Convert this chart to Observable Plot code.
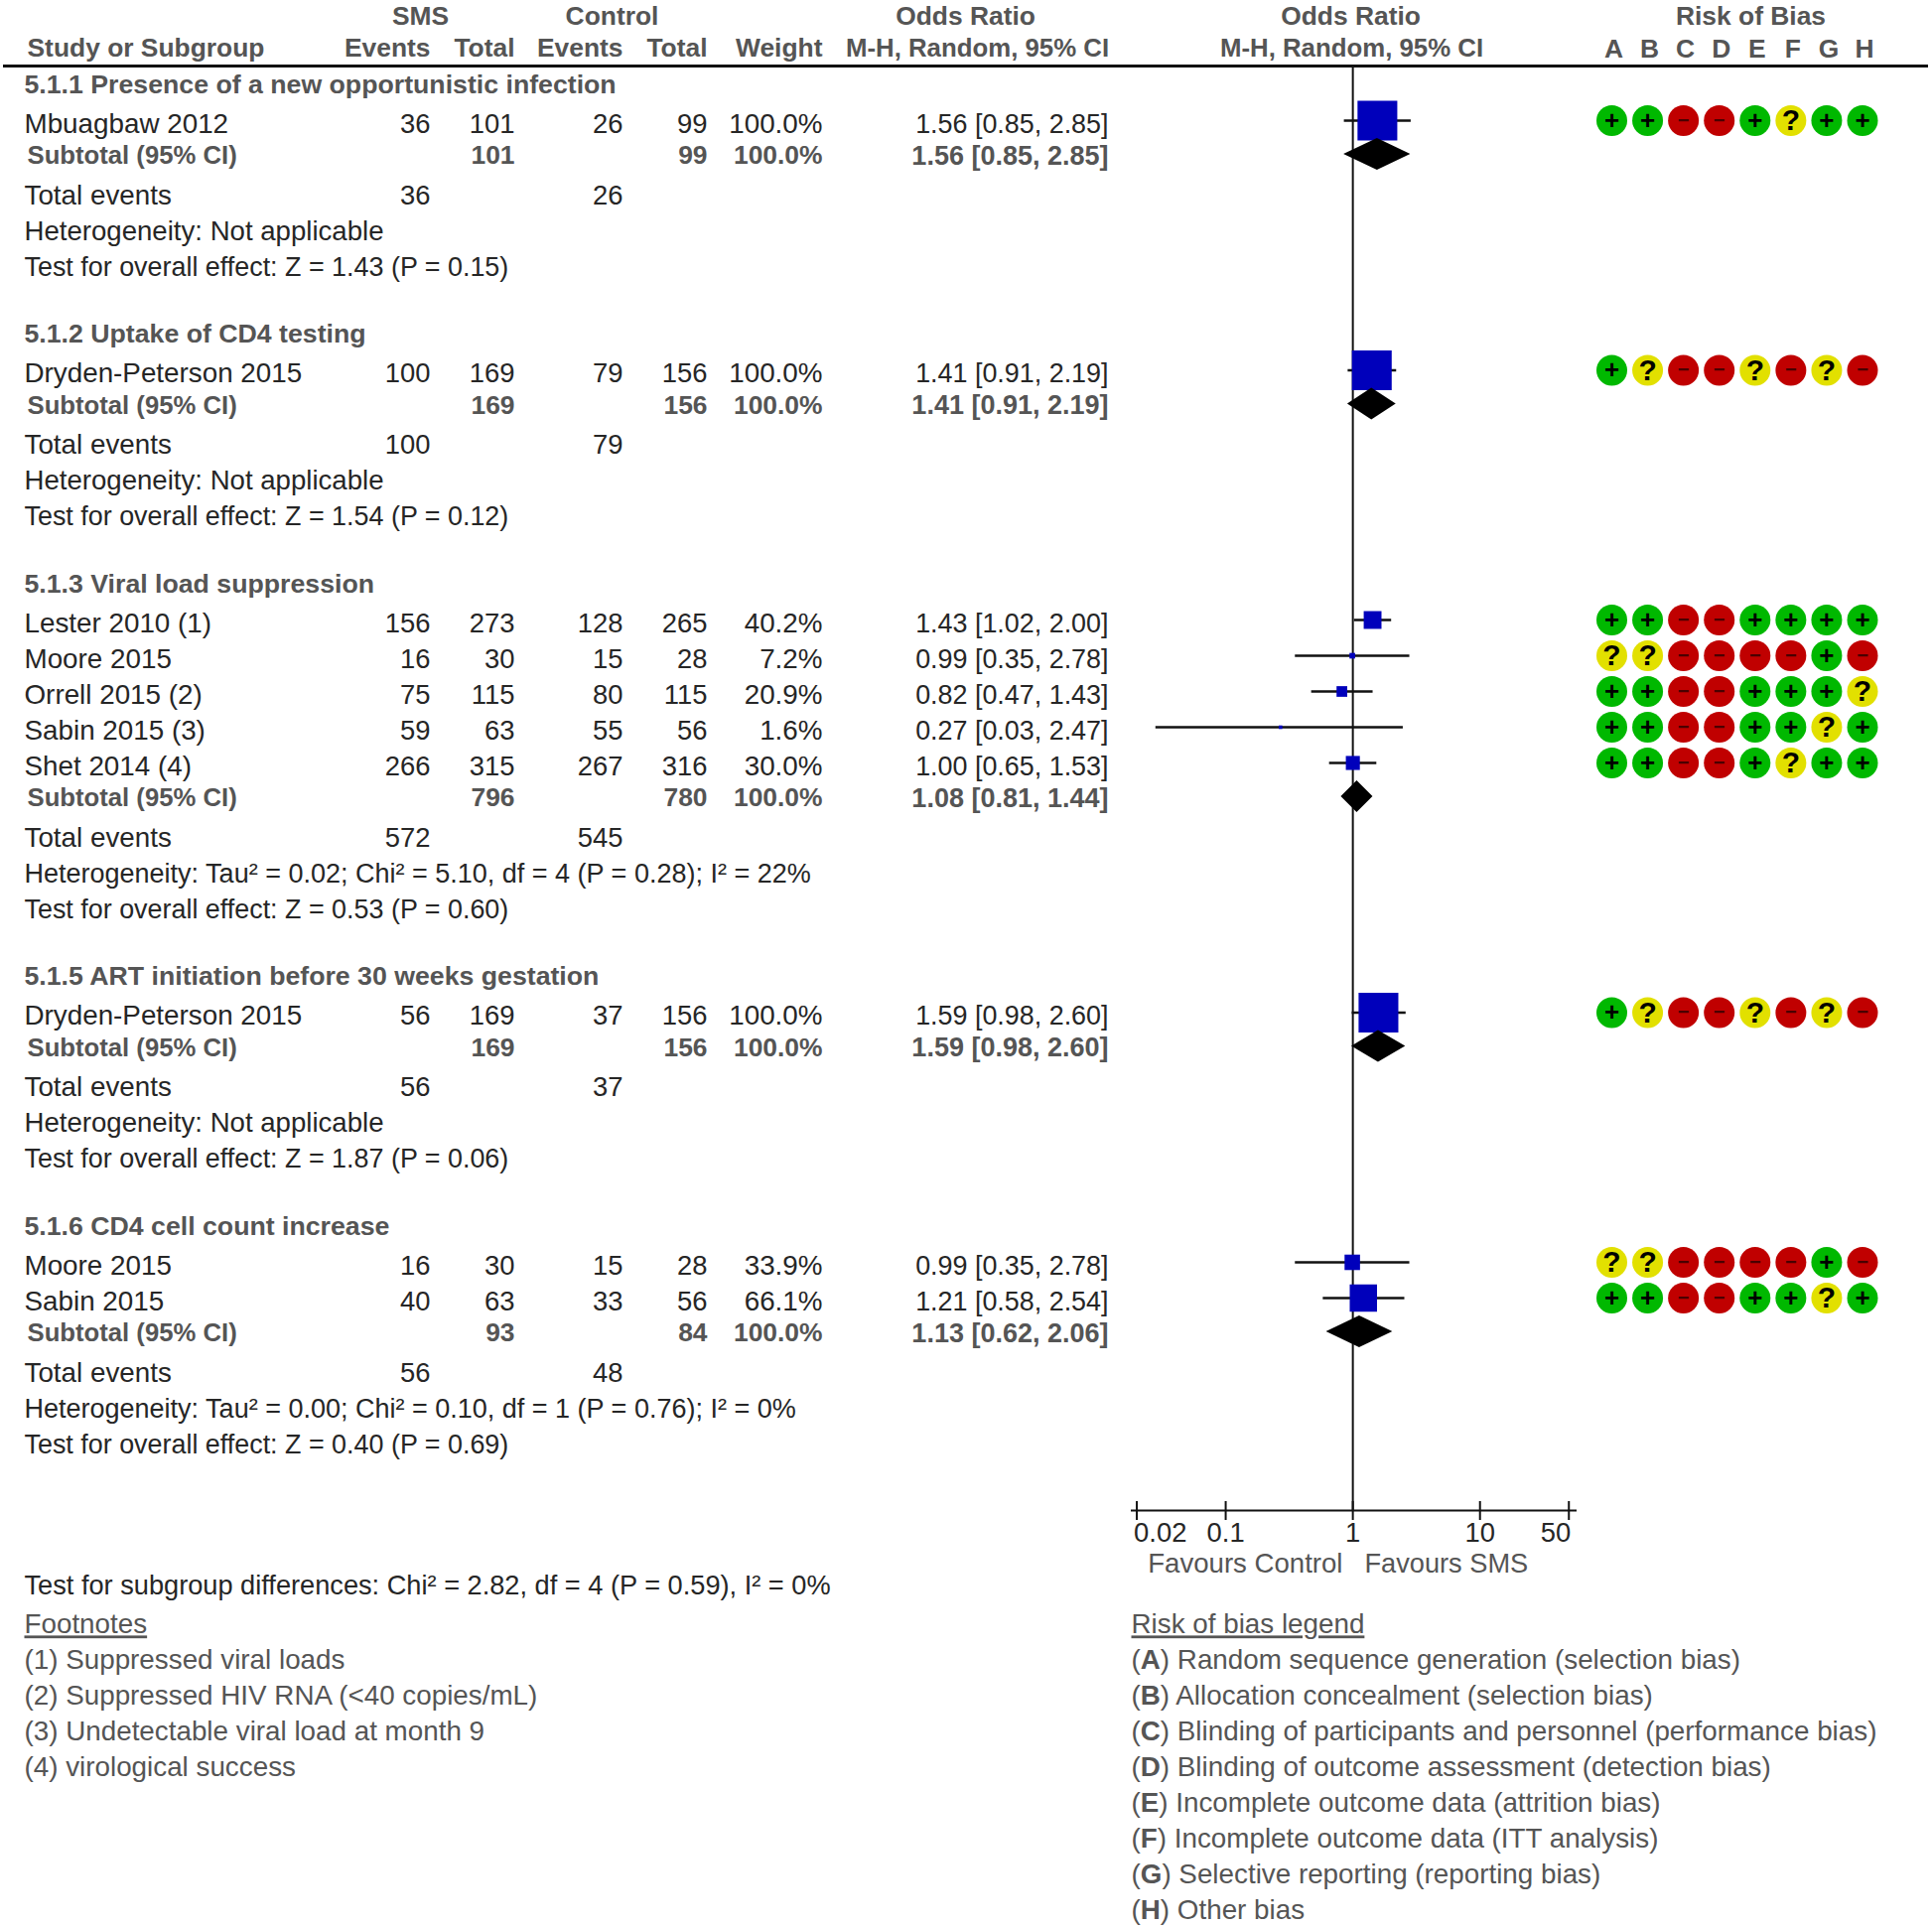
<!DOCTYPE html>
<html>
<head>
<meta charset="utf-8">
<script src="https://cdn.jsdelivr.net/npm/d3@7"></script>
<script src="https://cdn.jsdelivr.net/npm/@observablehq/plot@0.6"></script>
<style>
html,body{margin:0;padding:0;background:#fff}
#chart{position:relative;width:1946px;height:1941px;overflow:hidden}
#chart svg{position:absolute;left:0;top:0;max-width:none}
</style>
</head>
<body>
<div id="chart"></div>
<script>
// ---------- data ----------
const sectionTitles = ["5.1.1 Presence of a new opportunistic infection","5.1.2 Uptake of CD4 testing","5.1.3 Viral load suppression","5.1.5 ART initiation before 30 weeks gestation","5.1.6 CD4 cell count increase"];
const studyNames   = ["Mbuagbaw 2012","Dryden-Peterson 2015","Lester 2010 (1)","Moore 2015","Orrell 2015 (2)","Sabin 2015 (3)","Shet 2014 (4)","Dryden-Peterson 2015","Moore 2015","Sabin 2015"];
const studySection = [0,1,2,2,2,2,2,3,4,4];
const smsEvents    = [36,100,156,16,75,59,266,56,16,40];
const smsTotals    = [101,169,273,30,115,63,315,169,30,63];
const ctrlEvents   = [26,79,128,15,80,55,267,37,15,33];
const ctrlTotals   = [99,156,265,28,115,56,316,156,28,56];
const studyWeights = [100,100,40.2,7.2,20.9,1.6,30,100,33.9,66.1];
const studyOR      = [1.56,1.41,1.43,0.99,0.82,0.27,1.00,1.59,0.99,1.21];
const studyLo      = [0.85,0.91,1.02,0.35,0.47,0.028,0.65,0.98,0.35,0.58];
const studyHi      = [2.85,2.19,2.00,2.78,1.43,2.47,1.53,2.60,2.78,2.54];
const studyRob     = ["++--+?++","+?--?-?-","++--++++","??----+-","++--+++?","++--++?+","++--+?++","+?--?-?-","??----+-","++--++?+"];
const subSmsTotal  = [101,169,796,169,93];
const subCtrlTotal = [99,156,780,156,84];
const subOR        = [1.56,1.41,1.08,1.59,1.13];
const subLo        = [0.85,0.91,0.81,0.98,0.62];
const subHi        = [2.85,2.19,1.44,2.60,2.06];
const eventsSms    = [36,100,572,56,56];
const eventsCtrl   = [26,79,545,37,48];
const hetTexts     = ["Heterogeneity: Not applicable","Heterogeneity: Not applicable","Heterogeneity: Tau² = 0.02; Chi² = 5.10, df = 4 (P = 0.28); I² = 22%","Heterogeneity: Not applicable","Heterogeneity: Tau² = 0.00; Chi² = 0.10, df = 1 (P = 0.76); I² = 0%"];
const effectTexts  = ["Test for overall effect: Z = 1.43 (P = 0.15)","Test for overall effect: Z = 1.54 (P = 0.12)","Test for overall effect: Z = 0.53 (P = 0.60)","Test for overall effect: Z = 1.87 (P = 0.06)","Test for overall effect: Z = 0.40 (P = 0.69)"];
const subgroupTest = "Test for subgroup differences: Chi² = 2.82, df = 4 (P = 0.59), I² = 0%";
const footnotes    = ["(1) Suppressed viral loads","(2) Suppressed HIV RNA (<40 copies/mL)","(3) Undetectable viral load at month 9","(4) virological success"];
const robLegend    = ["(A) Random sequence generation (selection bias)","(B) Allocation concealment (selection bias)","(C) Blinding of participants and personnel (performance bias)","(D) Blinding of outcome assessment (detection bias)","(E) Incomplete outcome data (attrition bias)","(F) Incomplete outcome data (ITT analysis)","(G) Selective reporting (reporting bias)","(H) Other bias"];
const robDomains   = ["A","B","C","D","E","F","G","H"];
const axisTicksStart  = [0.02];
const axisTicksMiddle = [0.1,1,10];
const axisTicksEnd    = [50];

// ---------- layout ----------
const W = 1946, H = 1941;
const FONT = "Liberation Sans";
const FS = 26.4, FS_WIDE = 27.8, FS_NUM = 27.4, FS_CI = 26.9, FS_BOLD = 26.7;
const DARK = "#262626", GREY = "#555555";
const COL = {name:24, smsE:433, smsT:518, ctrlE:627, ctrlT:712, wt:828, ci:1116};
const gaps = {toStudy:40, nextStudy:36, toSub:32, toTotal:40, toHet:36, toTest:36, toSection:67.5};
const ROW_SHIFT = 3.5;           // forest and risk-of-bias symbols sit just above the text centre
const DIAMOND_HALF = 16, DIAMOND_SHIFT = 1.5;
const AXIS_Y = 1521, FOREST_TOP = 66, TICK_LABEL_Y = 1544;

let cur = 84.5;
const sectionRows = [], studyRows = [], subRows = [], totalRows = [], hetRows = [], effectRows = [];
sectionTitles.forEach((title, s) => {
  sectionRows.push({title, y: cur});
  let first = true;
  studyNames.forEach((name, i) => {
    if (studySection[i] !== s) return;
    cur += first ? gaps.toStudy : gaps.nextStudy; first = false;
    studyRows.push({name, y: cur, e1: smsEvents[i], t1: smsTotals[i], e2: ctrlEvents[i], t2: ctrlTotals[i],
      wt: studyWeights[i], or: studyOR[i], lo: studyLo[i], hi: studyHi[i], rob: studyRob[i]});
  });
  cur += gaps.toSub;
  subRows.push({y: cur, t1: subSmsTotal[s], t2: subCtrlTotal[s], or: subOR[s], lo: subLo[s], hi: subHi[s]});
  cur += gaps.toTotal;
  totalRows.push({y: cur, e1: eventsSms[s], e2: eventsCtrl[s]});
  cur += gaps.toHet;
  hetRows.push({y: cur, text: hetTexts[s]});
  cur += gaps.toTest;
  effectRows.push({y: cur, text: effectTexts[s]});
  cur += gaps.toSection;
});
const ciText = d => `${d.or.toFixed(2)} [${d.lo.toFixed(2)}, ${d.hi.toFixed(2)}]`;

const idY = {type:"linear", domain:[0,H], range:[0,H]};
const col = (rows, x, text, anchor, extra={}) =>
  Plot.text(rows, {x: () => x, y: "y", text, textAnchor: anchor, fontSize: FS, fontFamily: FONT, fill: DARK, ...extra});
const bold = {fontWeight:"bold", fill:GREY};
const big = {fontSize:FS_WIDE};
const num = {fontSize:FS_NUM};

const HEAD1 = 15.6, HEAD2 = 48;
const headerMiddle = [
  {y:HEAD1, x:423,  text:"SMS"},
  {y:HEAD1, x:616,  text:"Control"},
  {y:HEAD1, x:972,  text:"Odds Ratio"},
  {y:HEAD1, x:1360, text:"Odds Ratio"},
  {y:HEAD1, x:1763, text:"Risk of Bias"}
];
const headerFine = [
  {y:HEAD2, x:984,  text:"M-H, Random, 95% CI"},
  {y:HEAD2, x:1361, text:"M-H, Random, 95% CI"}
];
const headerEnd = [
  {y:HEAD2, x:COL.smsE,  text:"Events"},
  {y:HEAD2, x:COL.smsT,  text:"Total"},
  {y:HEAD2, x:COL.ctrlE, text:"Events"},
  {y:HEAD2, x:COL.ctrlT, text:"Total"},
  {y:HEAD2, x:COL.wt,    text:"Weight"}
];
const footerRows = (texts, y0) => texts.map((text,i) => ({text, y: y0 + 36*i}));

// ---------- table layer ----------
const table = Plot.plot({
  width:W, height:H, margin:0,
  x:{type:"linear", domain:[0,W], range:[0,W], axis:null},
  y:{...idY, axis:null},
  style:{background:"transparent"},
  marks:[
    Plot.text(headerMiddle,{x:"x",y:"y",text:"text",textAnchor:"middle",fontSize:FS,fontFamily:FONT,...bold}),
    Plot.text(headerFine,{x:"x",y:"y",text:"text",textAnchor:"middle",fontSize:25.8,fontFamily:FONT,...bold}),
    Plot.text(headerEnd,{x:"x",y:"y",text:"text",textAnchor:"end",fontSize:FS,fontFamily:FONT,...bold}),
    col([{y:HEAD2}], 27, () => "Study or Subgroup", "start", bold),
    Plot.ruleY([66],{x1:()=>3,x2:()=>1942,stroke:"#111",strokeWidth:3}),
    col(sectionRows, COL.name, "title", "start", {...bold, fontSize:FS_BOLD}),
    col(studyRows, COL.name, "name", "start", big),
    col(studyRows, COL.smsE, "e1", "end", num),
    col(studyRows, COL.smsT, "t1", "end", num),
    col(studyRows, COL.ctrlE, "e2", "end", num),
    col(studyRows, COL.ctrlT, "t2", "end", num),
    col(studyRows, COL.wt, d => d.wt.toFixed(1)+"%", "end", big),
    col(studyRows, COL.ci, ciText, "end", {fontSize:FS_CI}),
    col(subRows, 27, () => "Subtotal (95% CI)", "start", {...bold, fontSize:25.7}),
    col(subRows, COL.smsT, "t1", "end", bold),
    col(subRows, COL.ctrlT, "t2", "end", bold),
    col(subRows, COL.wt, () => "100.0%", "end", bold),
    col(subRows, COL.ci, ciText, "end", {...bold, fontSize:27}),
    col(totalRows, COL.name, () => "Total events", "start", big),
    col(totalRows, COL.smsE, "e1", "end", num),
    col(totalRows, COL.ctrlE, "e2", "end", num),
    col(hetRows.filter(d => d.text.length < 40), COL.name, "text", "start", {fontSize:27.6}),
    col(hetRows.filter(d => d.text.length >= 40), COL.name, "text", "start", {fontSize:27}),
    col(effectRows, COL.name, "text", "start", {fontSize:FS_CI}),
    col([{y:1597}], COL.name, () => subgroupTest, "start", {fontSize:27.2}),
    col([{y:1636}], COL.name, () => "Footnotes", "start", {fill:GREY, ...big}),
    col(footerRows(footnotes,1672), COL.name, "text", "start", {fill:GREY, ...big}),
    col([{y:1636}], 1139, () => "Risk of bias legend", "start", {fill:GREY, ...big}),
    col(footerRows(robLegend,1672), 1139, "text", "start", {fill:GREY, ...big}),
    col([{y:1575}], 1352, () => "Favours Control", "end", {fill:GREY, fontSize:27.6}),
    col([{y:1575}], 1374, () => "Favours SMS", "start", {fill:GREY, fontSize:27.2})
  ]
});

// ---------- forest layer ----------
const diamonds = subRows.flatMap((d,i) => {
  const c = d.y - DIAMOND_SHIFT;
  return [
    {id:i, x:d.lo, y1:c, y2:c},
    {id:i, x:d.or, y1:c-DIAMOND_HALF, y2:c+DIAMOND_HALF},
    {id:i, x:d.hi, y1:c, y2:c}
  ];
});
const tickLabel = (ticks, anchor, dx) => Plot.text(ticks, {
  x: d => d, y: () => TICK_LABEL_Y, text: d => String(d), textAnchor: anchor, dx,
  fontSize: FS_NUM, fontFamily: FONT, fill: DARK
});
const forest = Plot.plot({
  width:W, height:H,
  marginLeft:1139, marginRight:W-1588, marginTop:0, marginBottom:H-AXIS_Y,
  x:{type:"log", domain:[0.0181,58], axis:null},
  y:{...idY, axis:null},
  r:{type:"linear", domain:[0,100], range:[1.7,22.6]},
  style:{background:"transparent"},
  marks:[
    Plot.ruleX([1],{y1:()=>FOREST_TOP,y2:()=>AXIS_Y,stroke:"#111",strokeWidth:2}),
    Plot.ruleY([AXIS_Y],{stroke:"#111",strokeWidth:2}),
    Plot.ruleX([...axisTicksStart,...axisTicksMiddle,...axisTicksEnd],{y1:()=>AXIS_Y-9,y2:()=>AXIS_Y+10,stroke:"#111",strokeWidth:2}),
    tickLabel(axisTicksStart,"start",-3),
    tickLabel(axisTicksMiddle,"middle",0),
    tickLabel(axisTicksEnd,"end",2),
    Plot.link(studyRows,{x1:"lo",x2:"hi",y1:d=>d.y-ROW_SHIFT,y2:d=>d.y-ROW_SHIFT,stroke:"#111",strokeWidth:2.5}),
    Plot.dot(studyRows,{x:"or",y:d=>d.y-ROW_SHIFT,r:"wt",symbol:"square",fill:"#0000bb",stroke:"none"}),
    Plot.area(diamonds,{x1:"x",y1:"y1",y2:"y2",z:"id",fill:"#000",curve:"linear"})
  ]
});

// ---------- risk-of-bias layer ----------
const robCells = studyRows.flatMap(d => robDomains.map((k,i) => ({k, j:d.rob[i], y:d.y-ROW_SHIFT})));
const robColor = {"+":"#00b800","-":"#c00000","?":"#e2e000"};
const robGlyph = {"+":"+","-":"−","?":"?"};
const robInk   = {"+":"#000000","-":"#4a0000","?":"#000000"};
const robSize  = {"+":26,"-":20,"?":30};
const rob = Plot.plot({
  width:W, height:H,
  marginLeft:1623, marginRight:W-1875.5, marginTop:66, marginBottom:H-1900,
  x:{type:"point", domain:robDomains, padding:0, round:false, axis:null},
  y:{...idY, axis:null},
  style:{background:"transparent"},
  marks:[
    Plot.axisX({anchor:"top",tickSize:0,tickPadding:9,fontSize:FS,fontFamily:FONT,fontWeight:"bold",fill:GREY,dx:2,label:null}),
    Plot.dot(robCells,{x:"k",y:"y",r:15.5,fill:d=>robColor[d.j],stroke:"none"}),
    Plot.text(robCells,{x:"k",y:"y",text:d=>robGlyph[d.j],fontSize:d=>robSize[d.j],fontWeight:"bold",fontFamily:FONT,fill:d=>robInk[d.j]})
  ]
});

const root = document.getElementById("chart");
root.append(table, forest, rob);

// underlined headings and bold legend letters, kept as real text
d3.select(table).selectAll("text").each(function(){
  const s = this.textContent;
  if (s === "Footnotes" || s === "Risk of bias legend") this.style.textDecoration = "underline";
  const m = /^\(([A-H])\) (.*)$/.exec(s);
  if (m) {
    const t = d3.select(this).text("");
    t.append("tspan").text("(");
    t.append("tspan").attr("font-weight","bold").text(m[1]);
    t.append("tspan").text(") " + m[2]);
  }
});
</script>
</body>
</html>
